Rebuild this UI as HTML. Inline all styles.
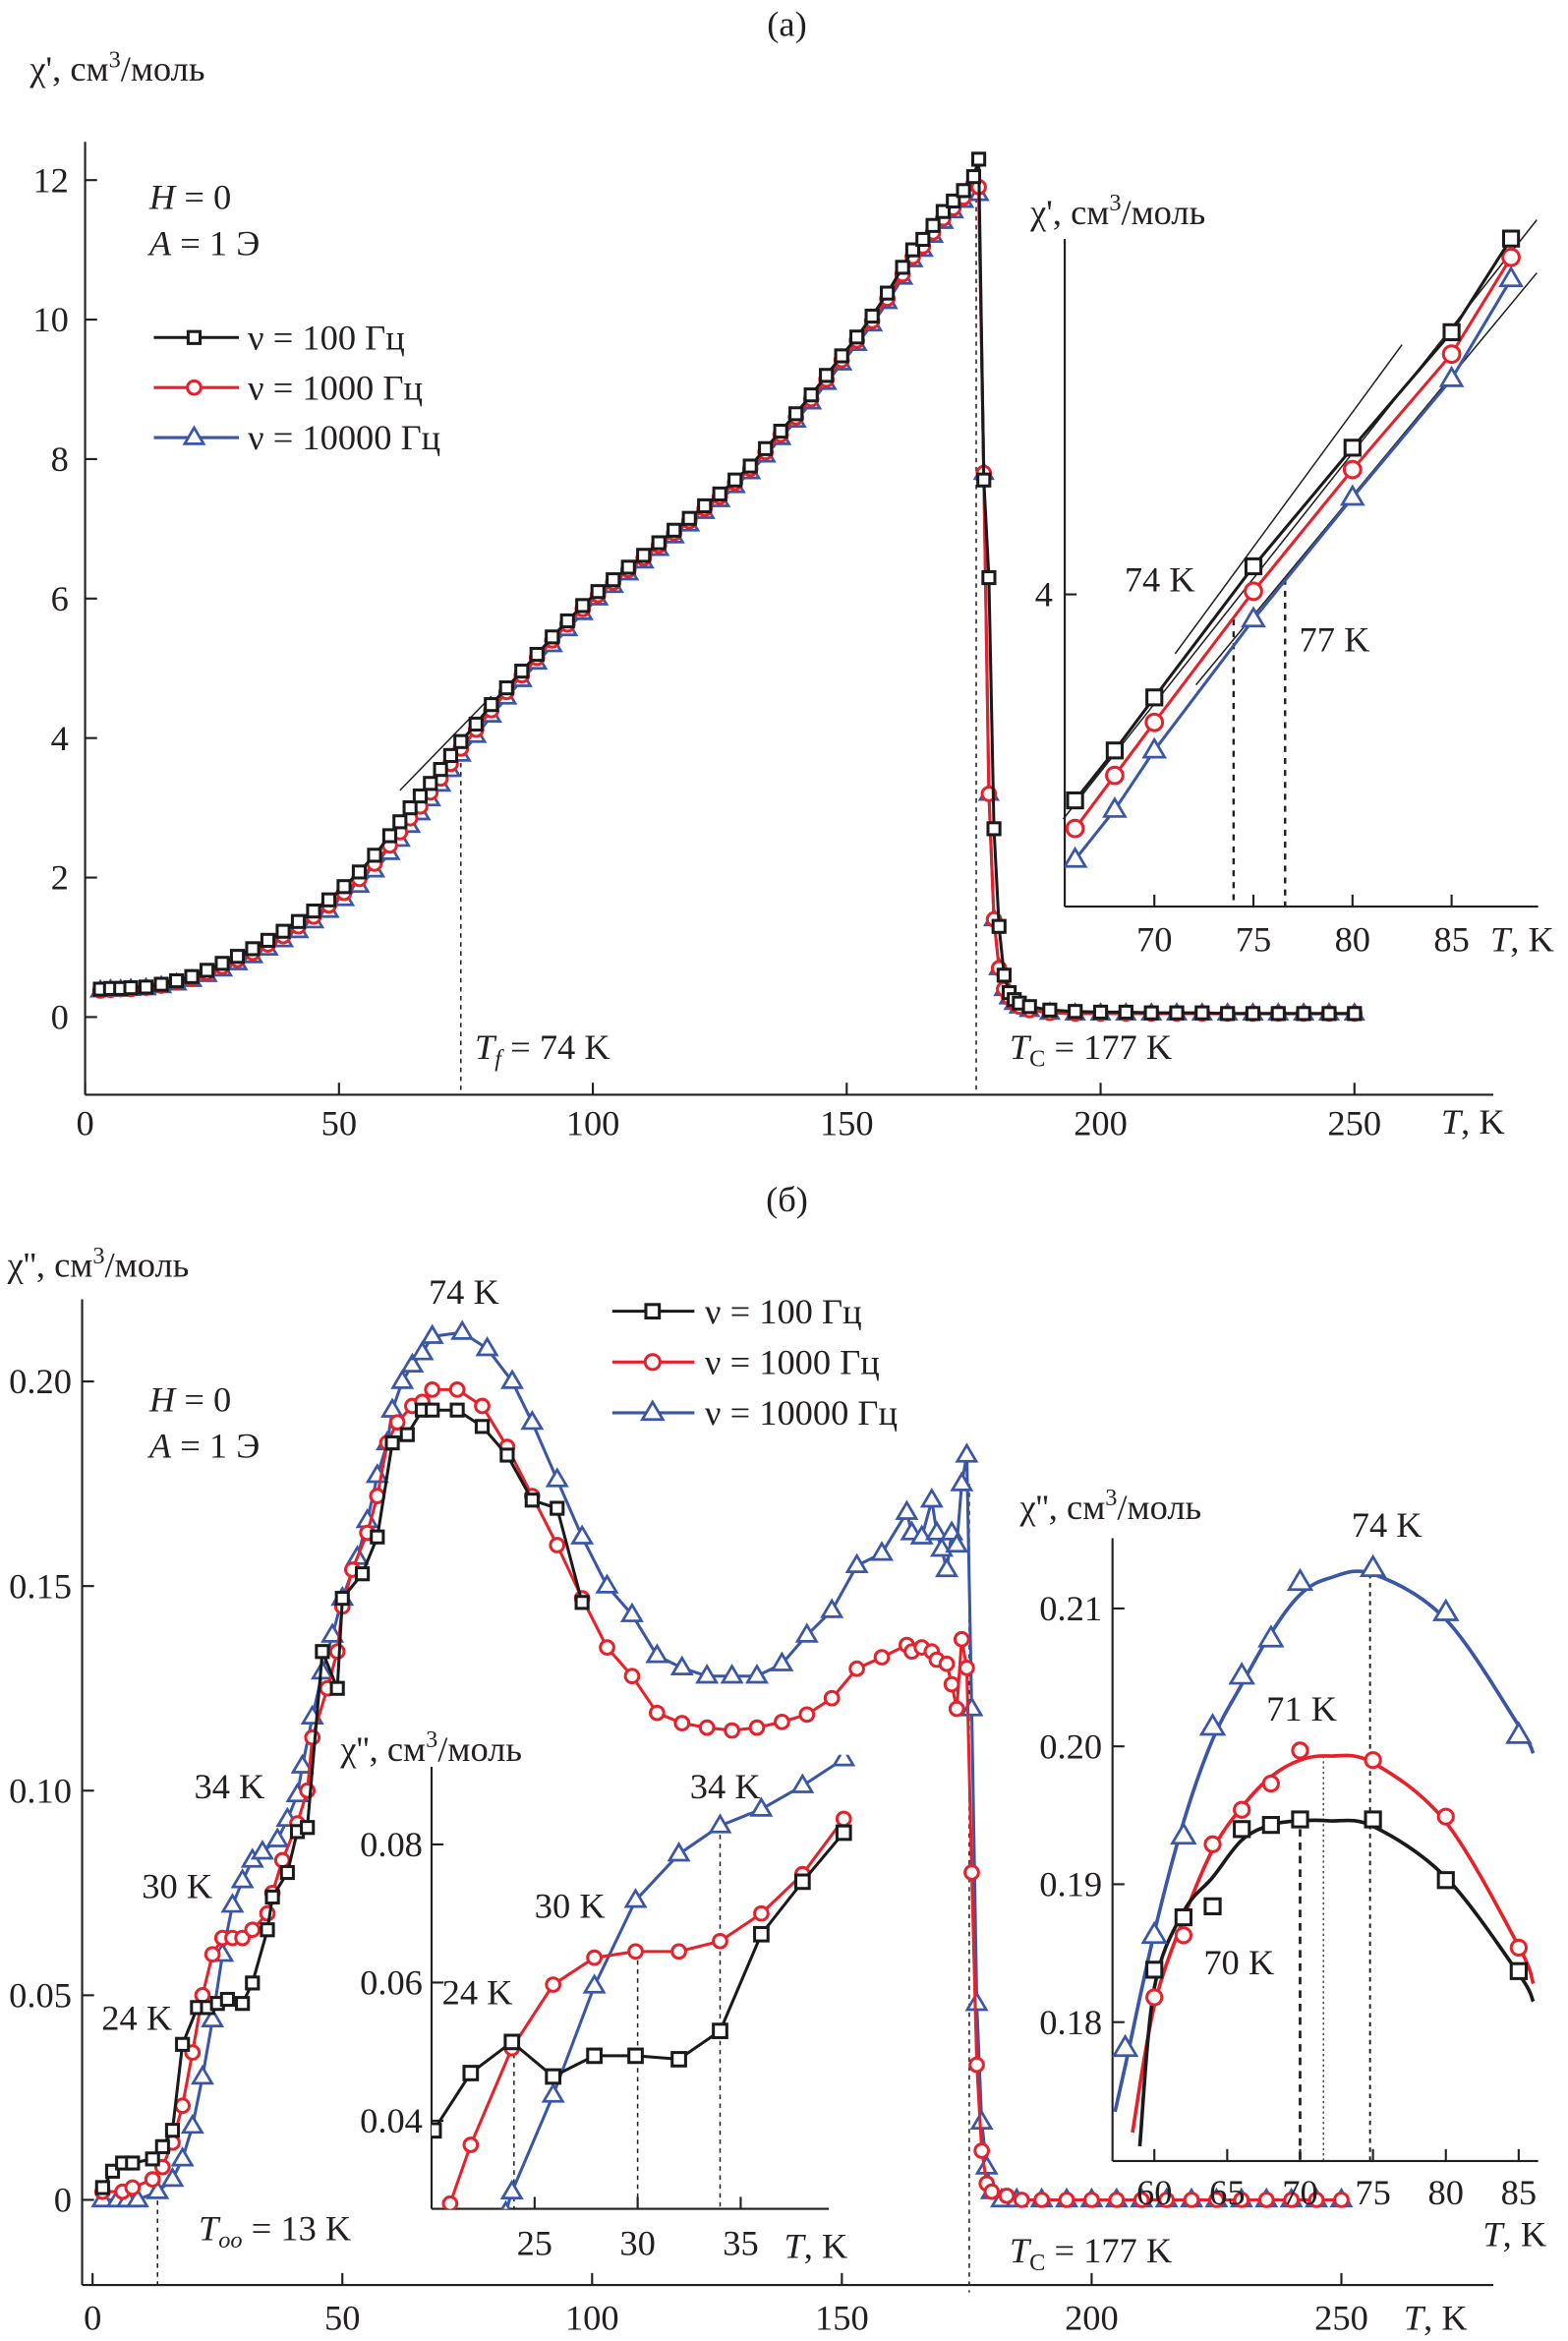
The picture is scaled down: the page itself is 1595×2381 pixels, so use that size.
<!DOCTYPE html>
<html><head><meta charset="utf-8">
<style>
html,body{margin:0;padding:0;background:#fff}
svg{display:block}
text{font-family:"Liberation Serif",serif;fill:#231f20}
.t{font-size:24px}
.it{font-style:italic}
</style></head>
<body>
<svg id="chart" width="1595" height="2381" viewBox="0 0 1050 1567.5" preserveAspectRatio="none" xmlns="http://www.w3.org/2000/svg">
<defs>
<clipPath id="clipAi"><rect x="713" y="140" width="325" height="467"/></clipPath>
<clipPath id="clipB1"><rect x="289" y="1175" width="300" height="304"/></clipPath>
<clipPath id="clipB2"><rect x="745" y="1025" width="300" height="420"/></clipPath>
</defs>
<g id="static">
<text x="527" y="24" class="t" text-anchor="middle">(a)</text>
<text x="20" y="54" class="t">χ', см<tspan dy="-9" font-size="16">3</tspan><tspan dy="9">/моль</tspan></text>
<text x="100" y="140" class="t"><tspan class="it">H</tspan> = 0</text>
<text x="100" y="171" class="t"><tspan class="it">A</tspan> = 1 Э</text>
<text x="318" y="709" class="t"><tspan class="it">T</tspan><tspan class="it" font-size="16" dy="5">f</tspan><tspan dy="-5"> = 74 K</tspan></text>
<text x="676" y="709" class="t"><tspan class="it">T</tspan><tspan font-size="16" dy="5">C</tspan><tspan dy="-5"> = 177 K</tspan></text>
<text x="965" y="759" class="t"><tspan class="it">T</tspan>, K</text>
<text x="690" y="150" class="t">χ', см<tspan dy="-9" font-size="16">3</tspan><tspan dy="9">/моль</tspan></text>
<text x="753" y="396" class="t">74 K</text>
<text x="870" y="436" class="t">77 K</text>
<text x="998" y="637" class="t"><tspan class="it">T</tspan>, K</text>

<text x="527" y="811" class="t" text-anchor="middle">(б)</text>
<text x="5" y="855" class="t">χ'', см<tspan dy="-9" font-size="16">3</tspan><tspan dy="9">/моль</tspan></text>
<text x="287" y="873" class="t">74 K</text>
<text x="100" y="945" class="t"><tspan class="it">H</tspan> = 0</text>
<text x="100" y="976" class="t"><tspan class="it">A</tspan> = 1 Э</text>
<text x="130" y="1204" class="t">34 K</text>
<text x="95" y="1271" class="t">30 K</text>
<text x="68" y="1359" class="t">24 K</text>
<text x="133" y="1500" class="t"><tspan class="it">T</tspan><tspan class="it" font-size="16" dy="5">oo</tspan><tspan dy="-5"> = 13 K</tspan></text>
<text x="676" y="1515" class="t"><tspan class="it">T</tspan><tspan font-size="16" dy="5">C</tspan><tspan dy="-5"> = 177 K</tspan></text>
<text x="940" y="1560" class="t"><tspan class="it">T</tspan>, K</text>
<text x="228" y="1179" class="t">χ'', см<tspan dy="-9" font-size="16">3</tspan><tspan dy="9">/моль</tspan></text>
<text x="358" y="1284" class="t">30 K</text>
<text x="462" y="1204" class="t">34 K</text>
<text x="296" y="1342" class="t">24 K</text>
<text x="525" y="1512" class="t"><tspan class="it">T</tspan>, K</text>
<text x="683" y="1017" class="t">χ'', см<tspan dy="-9" font-size="16">3</tspan><tspan dy="9">/моль</tspan></text>
<text x="905" y="1029" class="t">74 K</text>
<text x="848" y="1152" class="t">71 K</text>
<text x="806" y="1322" class="t">70 K</text>
<text x="993" y="1504" class="t"><tspan class="it">T</tspan>, K</text>
</g>
<g id="plots"></g>
</svg>
<script>
// ---------- Panel (a) main data ----------
const Ta = [3,5,7,9,12,15,18,21,24,27,30,33,36,39,42,45,48,51,54,57,60,62,64,66,68,70,72,74,77,80,83,86,89,92,95,98,101,104,107,110,113,116,119,122,125,128,131,134,137,140,143,146,149,152,155,158,161,163,165,167,169,171,173,175,176,177,178,179,180,181,182,183,184,186,190,195,200,205,210,215,220,225,230,235,240,245,250];
const chiA100 = [0.40,0.41,0.41,0.42,0.43,0.47,0.52,0.58,0.67,0.77,0.87,0.98,1.10,1.23,1.37,1.52,1.68,1.87,2.08,2.32,2.60,2.80,3.00,3.17,3.35,3.55,3.75,3.95,4.20,4.48,4.72,4.96,5.20,5.45,5.68,5.90,6.10,6.27,6.45,6.62,6.80,6.98,7.15,7.33,7.50,7.70,7.90,8.15,8.40,8.65,8.92,9.20,9.48,9.75,10.05,10.38,10.75,11.00,11.15,11.35,11.55,11.70,11.85,12.05,12.30,7.70,6.30,2.70,1.30,0.60,0.35,0.25,0.20,0.15,0.10,0.08,0.07,0.07,0.06,0.06,0.06,0.05,0.05,0.05,0.05,0.05,0.05];
const chiA1000 = [0.38,0.39,0.40,0.40,0.42,0.45,0.50,0.55,0.63,0.72,0.82,0.92,1.04,1.16,1.30,1.44,1.60,1.78,1.98,2.20,2.46,2.65,2.85,3.02,3.22,3.42,3.63,3.85,4.12,4.40,4.66,4.90,5.15,5.40,5.63,5.85,6.05,6.23,6.41,6.58,6.76,6.94,7.11,7.29,7.46,7.66,7.86,8.10,8.35,8.60,8.86,9.14,9.42,9.70,9.98,10.30,10.65,10.90,11.05,11.25,11.45,11.60,11.75,11.95,11.90,7.80,3.20,1.40,0.70,0.40,0.28,0.20,0.15,0.10,0.06,0.05,0.05,0.05,0.05,0.05,0.05,0.05,0.05,0.05,0.05,0.05,0.05];
const chiA10000 = [0.38,0.39,0.39,0.40,0.41,0.44,0.48,0.53,0.60,0.68,0.77,0.87,0.98,1.10,1.23,1.37,1.52,1.69,1.88,2.10,2.35,2.54,2.74,2.92,3.12,3.33,3.54,3.76,4.03,4.32,4.58,4.83,5.08,5.33,5.56,5.79,6.00,6.18,6.36,6.53,6.71,6.89,7.06,7.24,7.41,7.61,7.81,8.05,8.30,8.55,8.81,9.09,9.37,9.65,9.93,10.25,10.60,10.85,11.00,11.20,11.40,11.55,11.70,11.85,11.80,7.80,3.20,1.40,0.70,0.40,0.28,0.20,0.15,0.10,0.06,0.05,0.05,0.05,0.05,0.05,0.05,0.05,0.05,0.05,0.05,0.05,0.05];
const xTicksA = [0,50,100,150,200,250];
const yTicksA = [0,2,4,6,8,10,12];
// ---------- Panel (a) inset ----------
const TaIn = [66,68,70,75,80,85,88];
const chiAIn100 = [3.34,3.50,3.67,4.09,4.47,4.84,5.14];
const chiAIn1000 = [3.25,3.42,3.59,4.01,4.40,4.77,5.08];
const chiAIn10000 = [3.15,3.31,3.50,3.92,4.31,4.69,5.01];
const xTicksAIn = [70,75,80,85];
const yTicksAIn = [4];
// ---------- Panel (b) main ----------
const Tb100 = [2,4,6,8,12,14,16,18,21,23,25,27,30,32,35,36,39,41,43,46,49,50,54,57,60,63,66,68,73,78,83,88,93,98];
const chiB100 = [0.003,0.007,0.009,0.009,0.010,0.013,0.017,0.038,0.047,0.047,0.048,0.049,0.048,0.053,0.066,0.074,0.080,0.090,0.091,0.134,0.125,0.147,0.153,0.162,0.185,0.187,0.193,0.193,0.193,0.189,0.182,0.171,0.169,0.146];
const Tb1000 = [2,6,8,12,14,16,18,20,22,24,26,28,30,32,35,36,38,41,43,44,47,49,50,52,55,57,59,61,64,66,68,73,78,83,88,93,98,103,108,113,118,123,128,133,138,143,148,153,158,163,164,166,168,169,171,172,173,174,175,176,177,178,179,180,183,186,190,195,200,205,210,215,220,225,230,235,240,245,250];
const chiB1000 = [0.002,0.002,0.003,0.005,0.008,0.014,0.023,0.036,0.050,0.060,0.064,0.064,0.064,0.066,0.070,0.075,0.083,0.092,0.100,0.113,0.125,0.134,0.145,0.154,0.163,0.172,0.185,0.190,0.194,0.195,0.198,0.198,0.194,0.184,0.172,0.160,0.147,0.135,0.128,0.119,0.1165,0.1154,0.1147,0.1154,0.1168,0.1186,0.1226,0.1298,0.1326,0.1356,0.134,0.135,0.134,0.132,0.131,0.126,0.120,0.137,0.130,0.080,0.033,0.012,0.004,0.002,0.001,0,0,0,0,0,0,0,0,0,0,0,0,0,0];
const Tb10000 = [2,5,7,9,13,16,18,20,22,24,26,28,30,32,34,37,39,41,42,44,46,48,50,53,55,57,59,60,62,64,66,68,74,79,84,88,93,98,103,108,113,118,123,128,133,138,143,148,153,158,163,164,166,168,169,170,171,172,173,174,175,176,177,178,179,180,182,185,190,195,200,205,210,215,220,225,230,235,240,245,250];
const chiB10000 = [0,0,0,0,0.002,0.005,0.010,0.018,0.030,0.044,0.060,0.072,0.078,0.083,0.085,0.088,0.093,0.099,0.106,0.118,0.129,0.138,0.147,0.157,0.166,0.177,0.185,0.193,0.200,0.204,0.207,0.211,0.212,0.208,0.200,0.190,0.176,0.162,0.150,0.143,0.133,0.130,0.128,0.128,0.128,0.131,0.138,0.144,0.155,0.158,0.168,0.163,0.162,0.171,0.163,0.159,0.154,0.163,0.160,0.175,0.182,0.120,0.048,0.019,0.008,0.002,0,0,0,0,0,0,0,0,0,0,0,0,0,0,0];
const xTicksB = [0,50,100,150,200,250];
const yTicksB = [0,0.05,0.10,0.15,0.20];
const yTickLabelsB = ["0","0.05","0.10","0.15","0.20"];
// ---------- Panel (b) left inset ----------
const TbL = [20.1,21.9,23.9,25.9,27.9,29.9,32,34,36,38,40];
const chiBL100 = [0.0386,0.0469,0.0514,0.0464,0.0494,0.0494,0.0489,0.053,0.067,0.0746,0.0817];
const TbL1000 = [20.9,21.9,23.9,25.9,27.9,29.9,32,34,36,38,40];
const chiBL1000 = [0.028,0.0365,0.0505,0.0597,0.0636,0.0645,0.0645,0.066,0.070,0.0757,0.0837];
const TbL10000 = [23.6,23.9,25.9,27.9,29.9,32,34,36,38,40];
const chiBL10000 = [0.0267,0.0297,0.0437,0.0595,0.0719,0.0786,0.0827,0.0851,0.0885,0.0924];
const xTicksBL = [25,30,35];
const yTicksBL = [0.04,0.06,0.08];
// ---------- Panel (b) right inset ----------
const TbR = [60,62,64,66,68,70,75,80,85];
const chiBR100 = [0.1838,0.1876,0.1884,0.1940,0.1943,0.1947,0.1947,0.1903,0.1837];
const chiBR1000 = [0.1818,0.1863,0.1929,0.1954,0.1973,0.1997,0.1990,0.1949,0.1854];
const TbR10000 = [58,60,62,64,66,68,70,75,80,85];
const chiBR10000 = [0.1781,0.1863,0.1935,0.2014,0.2051,0.2078,0.2119,0.2129,0.2097,0.2008];
const fitT100 = [59,60,62,64,66,68,70,72,75,80,85,86];
const fitV100 = [0.171,0.1825,0.188,0.1905,0.1932,0.1943,0.1946,0.1946,0.1942,0.1905,0.1835,0.1815];
const fitT1000 = [58.5,60,62,64,66,68,70,72,75,80,85,86];
const fitV1000 = [0.172,0.1812,0.1875,0.1925,0.1956,0.1978,0.1990,0.1993,0.1988,0.1945,0.1855,0.1828];
const fitT10000 = [57.3,58,60,62,64,66,68,70,72,75,80,85,86];
const fitV10000 = [0.1735,0.1768,0.1865,0.1945,0.2005,0.2045,0.2082,0.2110,0.2122,0.2125,0.2092,0.2015,0.1995];
const xTicksBR = [60,65,70,75,80,85];
const yTicksBR = [0.18,0.19,0.20,0.21];
const yTickLabelsBR = ["0.18","0.19","0.20","0.21"];

// ---------- scales ----------
const xa = t => 57 + t*3.4,           ya = v => 681 - v*46.7;
const xai = t => 773 + (t-70)*13.27,  yai = v => 398 - (v-4)*209;
const xb = t => 62 + t*3.345,         yb = v => 1473 - v*2740;
const xbl = t => 358 + (t-25)*13.8,   ybl = v => 1235 - (v-0.08)*4625;
const xbr = t => 773 + (t-60)*9.76,   ybr = v => 1077 - (v-0.21)*9233;

const NS = "http://www.w3.org/2000/svg";
const root = document.getElementById('plots');
function mk(tag, attrs, parent){
  const e = document.createElementNS(NS, tag);
  for (const k in attrs) e.setAttribute(k, attrs[k]);
  (parent||root).appendChild(e);
  return e;
}
const COL = {k:"#1a1a1a", r:"#e8202a", b:"#3a56a6"};

function line(x1,y1,x2,y2,name,extra){
  const e = mk('line', Object.assign({x1,y1,x2,y2,stroke:"#231f20","stroke-width":1.4}, extra||{}));
  
  
  return e;
}
function label(x,y,txt,anchor,name){
  const e = mk('text',{x,y,"text-anchor":anchor,"class":"t"});
  e.textContent = txt;
  
  
  return e;
}
function marker(g, kind, x, y, color, s){
  let e;
  if (kind==='sq') e = mk('rect',{x:x-s,y:y-s,width:2*s,height:2*s,fill:"#fff",stroke:color,"stroke-width":2},g);
  else if (kind==='ci') e = mk('circle',{cx:x,cy:y,r:s,fill:"#fff",stroke:color,"stroke-width":2},g);
  else e = mk('polygon',{points:`${x},${y-s*1.2} ${x-s*1.15},${y+s*0.75} ${x+s*1.15},${y+s*0.75}`,fill:"#fff",stroke:color,"stroke-width":1.8},g);
  
  
}
function series(name, T, V, sx, sy, color, kind, s, clip, drawLine){
  const g = mk('g', clip?{"clip-path":`url(#${clip})`}:{});
  
  
  if (drawLine!==false){
    const pts = T.map((t,i)=>`${sx(t).toFixed(1)},${sy(V[i]).toFixed(1)}`).join(' ');
    const pl = mk('polyline',{points:pts,fill:"none",stroke:color,"stroke-width":2},g);
    
    
  }
  T.forEach((t,i)=>marker(g, kind, sx(t), sy(V[i]), color, s));
  return g;
}
function smooth(name, T, V, sx, sy, color, clip){
  const P = T.map((t,i)=>[sx(t), sy(V[i])]);
  let d = `M${P[0][0]},${P[0][1]}`;
  for (let i=0;i<P.length-1;i++){
    const p0=P[Math.max(0,i-1)], p1=P[i], p2=P[i+1], p3=P[Math.min(P.length-1,i+2)];
    d += ` C${p1[0]+(p2[0]-p0[0])/6},${p1[1]+(p2[1]-p0[1])/6} ${p2[0]-(p3[0]-p1[0])/6},${p2[1]-(p3[1]-p1[1])/6} ${p2[0]},${p2[1]}`;
  }
  const e = mk('path',{d,fill:"none",stroke:color,"stroke-width":2.4,"clip-path":`url(#${clip})`});
  
  
}

// ===== Panel (a) axes =====
line(57,95,57,733,'panel-a-y-axis');
line(57,733,1000,733,'panel-a-x-axis');
xTicksA.forEach(t=>{ line(xa(t),733,xa(t),725,'panel-a-x-tick'); label(xa(t),760,String(t),'middle','panel-a-x-tick-label'); });
yTicksA.forEach(v=>{ line(57,ya(v),65,ya(v),'panel-a-y-tick'); label(46,ya(v)+8,String(v),'end','panel-a-y-tick-label'); });
line(xa(74),ya(3.9),xa(74),733,'tf-marker-line',{"stroke-dasharray":"3,3","stroke-width":1});
line(xa(175.5),ya(12),xa(175.5),733,'panel-a-tc-marker-line',{"stroke-dasharray":"3,3","stroke-width":1});
line(xa(62),ya(3.25),xa(80),ya(4.6),'panel-a-tangent-line',{"stroke-width":1});
series('series-a-10000hz', Ta, chiA10000, xa, ya, COL.b, 'tr', 5);
series('series-a-1000hz', Ta, chiA1000, xa, ya, COL.r, 'ci', 4.5);
series('series-a-100hz', Ta, chiA100, xa, ya, COL.k, 'sq', 4);
// legend a
[["ν = 100 Гц",COL.k,'sq',4],["ν = 1000 Гц",COL.r,'ci',4.5],["ν = 10000 Гц",COL.b,'tr',5.5]].forEach((L,i)=>{
  const y = 226 + i*33.5;
  const g = mk('g',{});
  
  
  mk('line',{x1:103,y1:y,x2:160,y2:y,stroke:L[1],"stroke-width":2},g);
  marker(g, L[2], 130, y, L[1], L[3]);
  const t = mk('text',{x:166,y:y+8,"class":"t"},g); t.textContent = L[0];
});

// ===== Panel (a) inset =====
line(713,160,713,607,'inset-a-y-axis');
line(713,607,1030,607,'inset-a-x-axis');
xTicksAIn.forEach(t=>{ line(xai(t),607,xai(t),599,'inset-a-x-tick'); label(xai(t),637,String(t),'middle','inset-a-x-tick-label'); });
yTicksAIn.forEach(v=>{ line(713,yai(v),721,yai(v),'inset-a-y-tick'); label(705,yai(v)+8,String(v),'end','inset-a-y-tick-label'); });
line(xai(74),yai(3.92),xai(74),607,'inset-a-74k-marker',{"stroke-dasharray":"4,4","stroke-width":1.6});
line(xai(76.6),yai(4.05),xai(76.6),607,'inset-a-77k-marker',{"stroke-dasharray":"4,4","stroke-width":1.6});
line(xai(71.05),yai(3.81),xai(82.5),yai(4.80),'inset-a-tangent-1',{"stroke-width":1});
line(xai(72.1),yai(3.71),xai(89.3),yai(5.03),'inset-a-tangent-2',{"stroke-width":1});
line(xai(65.4),yai(3.28),xai(89.3),yai(5.2),'inset-a-tangent-3',{"stroke-width":1});
series('inset-a-10000hz', TaIn, chiAIn10000, xai, yai, COL.b, 'tr', 6, 'clipAi');
series('inset-a-1000hz', TaIn, chiAIn1000, xai, yai, COL.r, 'ci', 5.5, 'clipAi');
series('inset-a-100hz', TaIn, chiAIn100, xai, yai, COL.k, 'sq', 5, 'clipAi');

// ===== Panel (b) axes =====
line(55,870,55,1530,'panel-b-y-axis');
line(55,1530,1000,1530,'panel-b-x-axis');
xTicksB.forEach(t=>{ line(xb(t),1530,xb(t),1522,'panel-b-x-tick'); label(xb(t),1560,String(t),'middle','panel-b-x-tick-label'); });
yTicksB.forEach((v,i)=>{ line(55,yb(v),63,yb(v),'panel-b-y-tick'); label(48,yb(v)+8,yTickLabelsB[i],'end','panel-b-y-tick-label'); });
line(xb(13),yb(0.002),xb(13),1530,'too-marker-line',{"stroke-dasharray":"3,3","stroke-width":1});
line(xb(175.5),yb(0.175),xb(175.5),1535,'panel-b-tc-marker-line',{"stroke-dasharray":"3,3","stroke-width":1});
series('series-b-10000hz', Tb10000, chiB10000, xb, yb, COL.b, 'tr', 5.5);
series('series-b-1000hz', Tb1000, chiB1000, xb, yb, COL.r, 'ci', 4.5);
series('series-b-100hz', Tb100, chiB100, xb, yb, COL.k, 'sq', 4);
[["ν = 100 Гц",COL.k,'sq',4.5],["ν = 1000 Гц",COL.r,'ci',5],["ν = 10000 Гц",COL.b,'tr',6]].forEach((L,i)=>{
  const y = 878 + i*34;
  const g = mk('g',{});
  
  
  mk('line',{x1:410,y1:y,x2:465,y2:y,stroke:L[1],"stroke-width":2},g);
  marker(g, L[2], 437, y, L[1], L[3]);
  const t = mk('text',{x:472,y:y+8,"class":"t"},g); t.textContent = L[0];
});

// ===== Panel (b) left inset =====
line(289,1183,289,1479,'inset-b1-y-axis');
line(289,1479,555,1479,'inset-b1-x-axis');
xTicksBL.forEach(t=>{ line(xbl(t),1479,xbl(t),1471,'inset-b1-x-tick'); label(xbl(t),1510,String(t),'middle','inset-b1-x-tick-label'); });
yTicksBL.forEach(v=>{ line(289,ybl(v),297,ybl(v),'inset-b1-y-tick'); label(283,ybl(v)+8,v.toFixed(2),'end','inset-b1-y-tick-label'); });
line(xbl(24),ybl(0.051),xbl(24),1479,'inset-b1-24k-marker',{"stroke-dasharray":"3,3","stroke-width":1});
line(xbl(30),ybl(0.0645),xbl(30),1479,'inset-b1-30k-marker',{"stroke-dasharray":"3,3","stroke-width":1});
line(xbl(34),ybl(0.0827),xbl(34),1479,'inset-b1-34k-marker',{"stroke-dasharray":"3,3","stroke-width":1});
series('inset-b1-10000hz', TbL10000, chiBL10000, xbl, ybl, COL.b, 'tr', 5.5, 'clipB1');
series('inset-b1-1000hz', TbL1000, chiBL1000, xbl, ybl, COL.r, 'ci', 4.5, 'clipB1');
series('inset-b1-100hz', TbL, chiBL100, xbl, ybl, COL.k, 'sq', 4.5, 'clipB1');

// ===== Panel (b) right inset =====
line(745,1030,745,1447,'inset-b2-y-axis');
line(745,1447,1030,1447,'inset-b2-x-axis');
xTicksBR.forEach(t=>{ line(xbr(t),1447,xbr(t),1439,'inset-b2-x-tick'); label(xbr(t),1476,String(t),'middle','inset-b2-x-tick-label'); });
yTicksBR.forEach((v,i)=>{ line(745,ybr(v),753,ybr(v),'inset-b2-y-tick'); label(738,ybr(v)+8,yTickLabelsBR[i],'end','inset-b2-y-tick-label'); });
line(xbr(70),ybr(0.194),xbr(70),1447,'inset-b2-70k-marker',{"stroke-dasharray":"5,4","stroke-width":1.8});
line(xbr(71.6),ybr(0.1993),xbr(71.6),1447,'inset-b2-71k-marker',{"stroke-dasharray":"1.5,2","stroke-width":0.8});
line(xbr(74.8),ybr(0.2125),xbr(74.8),1447,'inset-b2-74k-marker',{"stroke-dasharray":"3,3","stroke-width":1.3});
smooth('inset-b2-fit-10000hz', fitT10000, fitV10000, xbr, ybr, COL.b, 'clipB2');
smooth('inset-b2-fit-1000hz', fitT1000, fitV1000, xbr, ybr, COL.r, 'clipB2');
smooth('inset-b2-fit-100hz', fitT100, fitV100, xbr, ybr, COL.k, 'clipB2');
series('inset-b2-10000hz', TbR10000, chiBR10000, xbr, ybr, COL.b, 'tr', 6.5, null, false);
series('inset-b2-1000hz', TbR, chiBR1000, xbr, ybr, COL.r, 'ci', 5, null, false);
series('inset-b2-100hz', TbR, chiBR100, xbr, ybr, COL.k, 'sq', 5, null, false);
</script>
</body></html>
